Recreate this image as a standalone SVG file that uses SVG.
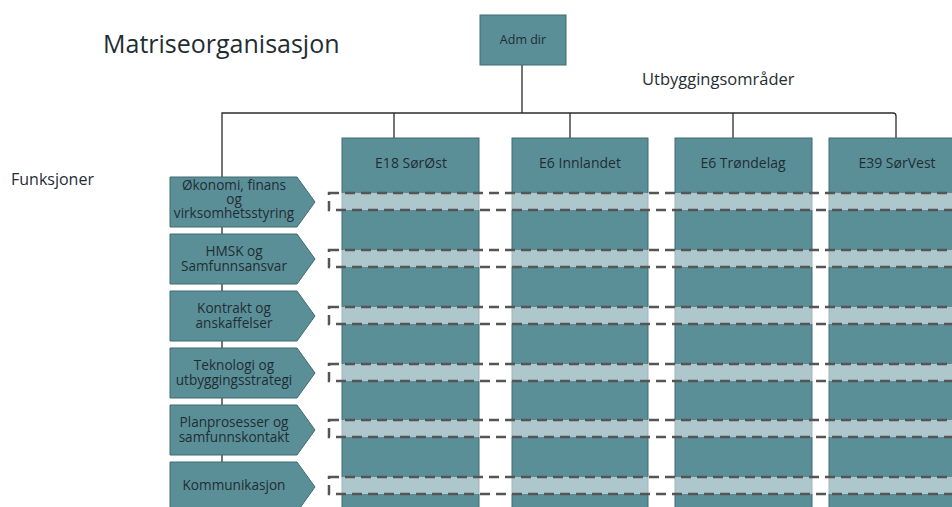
<svg xmlns="http://www.w3.org/2000/svg" width="952" height="507" viewBox="0 0 952 507">
<style>
text{font-family:"Open Sans","Noto Sans","Liberation Sans",sans-serif;fill:#1f2d33}
.box{fill:#5b8f98;stroke:#3e6a71;stroke-width:1}
.ln{fill:none;stroke:#2b2b2b;stroke-width:1.3}
.band{fill:#ffffff;fill-opacity:0.5;stroke:#555;stroke-width:2.5;stroke-dasharray:10,6}
.lbl{font-size:13.6px;text-anchor:middle}
.col{font-size:14px;text-anchor:middle}
</style>
<rect width="952" height="507" fill="#fff"/>
<text x="103" y="53" font-size="25">Matriseorganisasjon</text>
<text x="642" y="85" font-size="16.5">Utbyggingsområder</text>
<text x="11" y="185" font-size="16">Funksjoner</text>
<g id="connectors">
<path class="ln" d="M522 65 V113" stroke="#777"/>
<path class="ln" d="M222 507 V113 H893 Q896 113 896 116 V138"/>
<path class="ln" d="M394 113 V138 M570 113 V138 M733 113 V138"/>
</g>
<g id="adm-dir"><rect class="box" x="480" y="15" width="86" height="50"/><text x="523" y="44" font-size="12.5" text-anchor="middle">Adm dir</text></g>
<g id="col-e18"><rect class="box" x="342" y="138" width="137" height="375"/><text class="col" x="411" y="168">E18 SørØst</text></g>
<g id="col-e6i"><rect class="box" x="512" y="138" width="136" height="375"/><text class="col" x="580" y="168">E6 Innlandet</text></g>
<g id="col-e6t"><rect class="box" x="675" y="138" width="137" height="375"/><text class="col" x="743" y="168">E6 Trøndelag</text></g>
<g id="col-e39"><rect class="box" x="829" y="138" width="140" height="375"/><text class="col" x="897" y="168">E39 SørVest</text></g>
<g id="bands">
<rect class="band" x="329" y="193" width="640" height="17"/>
<rect class="band" x="329" y="250" width="640" height="17"/>
<rect class="band" x="329" y="307" width="640" height="17"/>
<rect class="band" x="329" y="364" width="640" height="17"/>
<rect class="band" x="329" y="420" width="640" height="17"/>
<rect class="band" x="329" y="477" width="640" height="17"/>
</g>
<g id="f1"><path class="box" d="M170 177H297L315 202L297 227H170Z"/><text class="lbl" x="234"><tspan x="234" y="190">Økonomi, finans</tspan><tspan x="234" y="204">og</tspan><tspan x="234" y="218">virksomhetsstyring</tspan></text></g>
<g id="f2"><path class="box" d="M170 234H297L315 259L297 284H170Z"/><text class="lbl" x="234"><tspan x="234" y="256">HMSK og</tspan><tspan x="234" y="271">Samfunnsansvar</tspan></text></g>
<g id="f3"><path class="box" d="M170 291H297L315 316L297 341H170Z"/><text class="lbl" x="234"><tspan x="234" y="313">Kontrakt og</tspan><tspan x="234" y="328">anskaffelser</tspan></text></g>
<g id="f4"><path class="box" d="M170 348H297L315 373L297 398H170Z"/><text class="lbl" x="234"><tspan x="234" y="370">Teknologi og</tspan><tspan x="234" y="385">utbyggingsstrategi</tspan></text></g>
<g id="f5"><path class="box" d="M170 405H297L315 430L297 455H170Z"/><text class="lbl" x="234"><tspan x="234" y="427">Planprosesser og</tspan><tspan x="234" y="442">samfunnskontakt</tspan></text></g>
<g id="f6"><path class="box" d="M170 462H297L315 487L297 512H170Z"/><text class="lbl" x="234" y="490">Kommunikasjon</text></g>
</svg>
